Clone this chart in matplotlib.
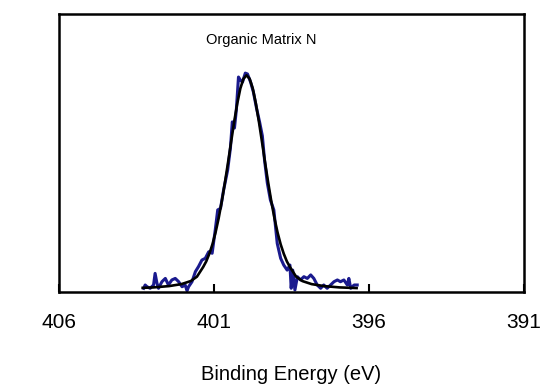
import matplotlib
matplotlib.use("Agg")
import matplotlib.pyplot as plt

plt.rcParams['font.family'] = ['Liberation Sans', 'DejaVu Sans']

# Measured spectrum (binding energy eV, normalised intensity)
data_energy = [403.27, 403.22, 403.16, 403.06, 402.95, 402.90, 402.84, 402.79, 402.68, 402.57,
               402.47, 402.36, 402.25, 402.14, 402.03, 401.93, 401.87, 401.82, 401.71, 401.60,
               401.50, 401.39, 401.28, 401.17, 401.06, 400.96, 400.88, 400.79, 400.69, 400.56,
               400.47, 400.41, 400.34, 400.28, 400.21, 400.15, 400.08, 399.99, 399.92, 399.82,
               399.73, 399.63, 399.53, 399.44, 399.37, 399.28, 399.18, 399.07, 398.96, 398.85,
               398.75, 398.64, 398.55, 398.51, 398.46, 398.39, 398.31, 398.21, 398.10, 397.99,
               397.88, 397.78, 397.67, 397.56, 397.46, 397.35, 397.24, 397.13, 397.02, 396.92,
               396.81, 396.70, 396.65, 396.59, 396.48, 396.38]
data_intensity = [0.017, 0.032, 0.024, 0.017, 0.032, 0.085, 0.040, 0.017, 0.047, 0.062,
                  0.032, 0.055, 0.062, 0.047, 0.024, 0.032, 0.006, 0.024, 0.047, 0.093,
                  0.116, 0.146, 0.154, 0.184, 0.177, 0.283, 0.375, 0.382, 0.466, 0.557,
                  0.658, 0.777, 0.749, 0.831, 0.982, 0.968, 0.959, 1.000, 0.996, 0.959,
                  0.914, 0.841, 0.777, 0.713, 0.603, 0.498, 0.420, 0.375, 0.222, 0.154,
                  0.123, 0.100, 0.123, 0.017, 0.100, 0.009, 0.070, 0.055, 0.070, 0.062,
                  0.078, 0.062, 0.032, 0.017, 0.032, 0.017, 0.032, 0.047, 0.055, 0.047,
                  0.055, 0.032, 0.062, 0.017, 0.032, 0.032]

# Fitted envelope
fit_energy = [403.30, 402.95, 402.45, 402.05, 401.75, 401.55, 401.35, 401.25, 401.15, 401.05,
              400.95, 400.85, 400.75, 400.65, 400.55, 400.45, 400.35, 400.25, 400.15, 400.05,
              399.95, 399.85, 399.75, 399.65, 399.55, 399.45, 399.35, 399.25, 399.15, 399.05,
              398.95, 398.85, 398.75, 398.65, 398.55, 398.35, 398.15, 397.85, 397.45, 396.95,
              396.40]
fit_intensity = [0.019, 0.021, 0.027, 0.036, 0.050, 0.070, 0.114, 0.140, 0.175, 0.218,
                 0.272, 0.337, 0.413, 0.498, 0.589, 0.684, 0.777, 0.861, 0.930, 0.974,
                 0.990, 0.974, 0.930, 0.861, 0.777, 0.684, 0.589, 0.498, 0.413, 0.337,
                 0.272, 0.218, 0.175, 0.140, 0.114, 0.070, 0.050, 0.036, 0.027, 0.021,
                 0.018]

x_ticks = [406, 401, 396, 391]
title_text = "Organic Matrix N"
x_label = "Binding Energy (eV)"

fig = plt.figure(figsize=(5.44, 3.87), dpi=100)
ax = fig.add_axes([59/544, 95/387, 465/544, 278/387])

ax.plot(data_energy, data_intensity, color='#1a1a8e', lw=2.2)
ax.plot(fit_energy, fit_intensity, color='black', lw=1.9)

ax.set_xlim(406, 391)
ax.set_ylim(0, 1.27)
ax.set_xticks(x_ticks)
ax.set_xticklabels([str(t) for t in x_ticks])
ax.set_yticks([])
ax.tick_params(axis='x', direction='in', length=6, width=1.5, pad=15, labelsize=15)
for s in ax.spines.values():
    s.set_linewidth(1.8)
ax.set_xlabel(x_label, fontsize=14.5, labelpad=24)
ax.text(0.434, 0.906, title_text, transform=ax.transAxes, ha='center', va='center', fontsize=10.5)

fig.savefig("out.png", dpi=100)
